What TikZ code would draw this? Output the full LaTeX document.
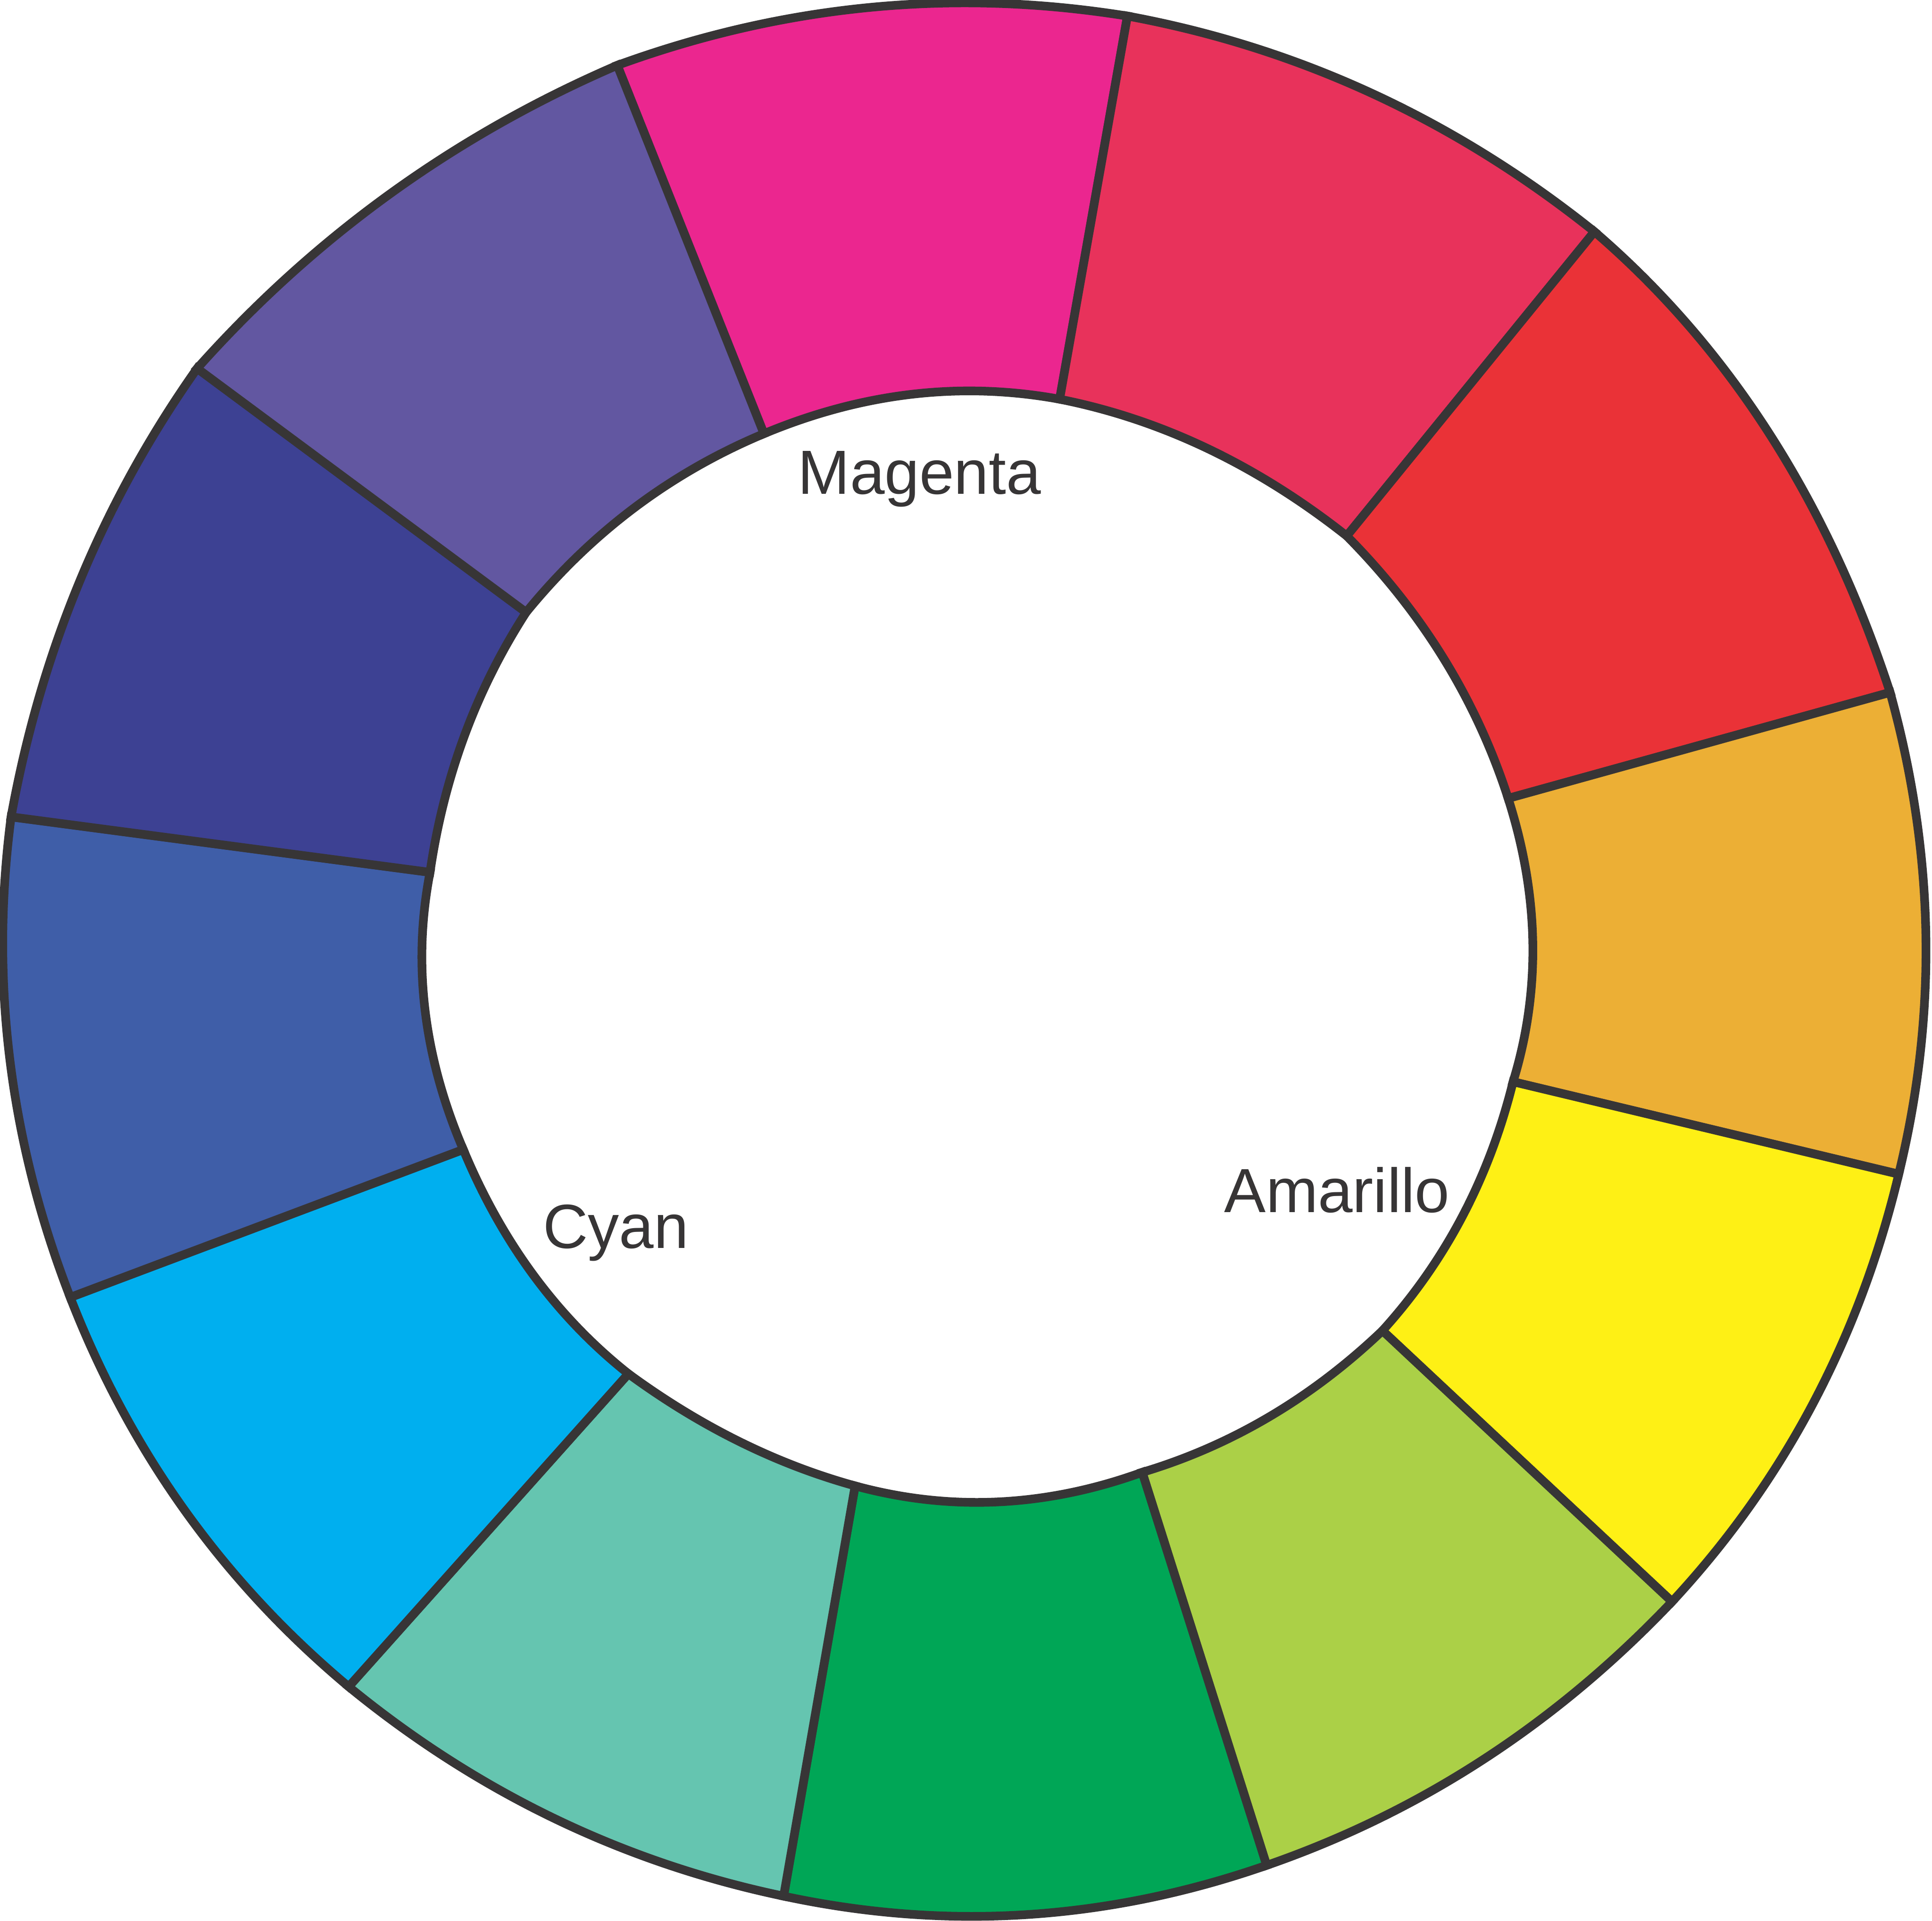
\documentclass[tikz,border=0pt]{standalone}
\usepackage{fontspec}
\setmainfont{Liberation Sans}
\usepackage{tikz}
\usetikzlibrary{calc}
\definecolor{wheelline}{HTML}{373536}
\definecolor{cmagenta}{HTML}{EB268F}
\definecolor{crose}{HTML}{E8325B}
\definecolor{cred}{HTML}{EA3237}
\definecolor{corange}{HTML}{ECAF35}
\definecolor{cyellow}{HTML}{FEF015}
\definecolor{cygreen}{HTML}{ABD047}
\definecolor{cgreen}{HTML}{00A656}
\definecolor{cteal}{HTML}{65C5B0}
\definecolor{ccyan}{HTML}{00AFEF}
\definecolor{cblue}{HTML}{3F5EA8}
\definecolor{cdarkblue}{HTML}{3D4193}
\definecolor{cpurple}{HTML}{6257A1}

\begin{document}
\begin{tikzpicture}[
  x=0.01cm, y=-0.01cm,
  sector/.style={draw=wheelline, line width=2pt, line join=miter},
  label/.style={anchor=base west, inner sep=0pt, text=wheelline, font=\fontsize{14.4}{17}\selectfont}
]
\useasboundingbox (0,0) rectangle (1568,1559);
% outer and inner boundary points
\coordinate (o1) at (501,53);   \coordinate (i1) at (620,352);
\coordinate (o2) at (915,13);   \coordinate (i2) at (860,324);
\coordinate (o3) at (1294,188); \coordinate (i3) at (1093,435);
\coordinate (o4) at (1534,562); \coordinate (i4) at (1224,648);
\coordinate (o5) at (1541,953); \coordinate (i5) at (1228,878);
\coordinate (o6) at (1357,1300);\coordinate (i6) at (1122,1080);
\coordinate (o7) at (1028,1514);\coordinate (i7) at (927,1195);
\coordinate (o8) at (636,1539); \coordinate (i8) at (694,1206);
\coordinate (o9) at (283,1369); \coordinate (i9) at (510,1115);
\coordinate (o10) at (57,1053); \coordinate (i10) at (376,933);
\coordinate (o11) at (9,663);   \coordinate (i11) at (349,708);
\coordinate (o12) at (160,299); \coordinate (i12) at (427,497);
% points the arcs pass through
\coordinate (m1) at (706,6);     \coordinate (n1) at (740,320);
\coordinate (m2) at (1114,76);   \coordinate (n2) at (980,364);
\coordinate (m3) at (1436,352);  \coordinate (n3) at (1172,535);
\coordinate (m4) at (1563,758);  \coordinate (n4) at (1244,765);
\coordinate (m5) at (1471,1140); \coordinate (n5) at (1187,987);
\coordinate (m6) at (1204,1428); \coordinate (n6) at (1030,1150);
\coordinate (m7) at (833,1554);  \coordinate (n7) at (810,1219);
\coordinate (m8) at (450,1476);  \coordinate (n8) at (600,1170);
\coordinate (m9) at (150,1226);  \coordinate (n9) at (433,1035);
\coordinate (m10) at (8,860);    \coordinate (n10) at (345,820);
\coordinate (m11) at (65,471);   \coordinate (n11) at (377,597);
\coordinate (m12) at (317,157);  \coordinate (n12) at (515,412);
\foreach \k/\l/\col in {1/2/cmagenta, 2/3/crose, 3/4/cred, 4/5/corange,
    5/6/cyellow, 6/7/cygreen, 7/8/cgreen, 8/9/cteal, 9/10/ccyan,
    10/11/cblue, 11/12/cdarkblue, 12/1/cpurple}
  \filldraw[sector, fill=\col] (o\k)
    .. controls ($1.3333*(m\k)-0.3333*(o\l)$) and ($1.3333*(m\k)-0.3333*(o\k)$) .. (o\l)
    -- (i\l)
    .. controls ($1.3333*(n\k)-0.3333*(i\k)$) and ($1.3333*(n\k)-0.3333*(i\l)$) .. (i\k)
    -- cycle;
\node[label] (magenta) at (647,401) {Magenta};
\node[label] (amarillo) at (993,984) {Amarillo};
\node[label] (cyan) at (440,1013) {Cyan};
\end{tikzpicture}
\end{document}
